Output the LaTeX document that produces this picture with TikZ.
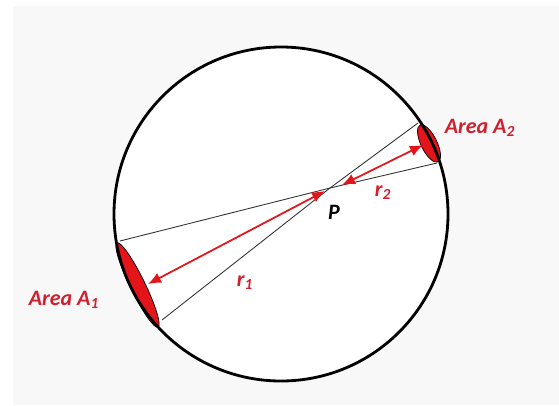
\documentclass[tikz,border=0pt]{standalone}
\usepackage{fontspec}
\setmainfont{Carlito}
\usetikzlibrary{arrows.meta,positioning,calc}
\definecolor{areared}{HTML}{E4141B}
\definecolor{labelred}{HTML}{D0202E}
\definecolor{paper}{HTML}{F8F8F8}
\tikzset{
  arealabel/.style={font=\fontsize{12.5}{14}\selectfont\bfseries\itshape,text=labelred,inner sep=1pt},
  radiuslabel/.style={font=\fontsize{12.5}{14}\selectfont\bfseries\itshape,text=labelred,inner sep=1pt},
  chord/.style={black!80,line width=0.5pt},
  radius/.style={areared,line width=1pt,{Latex[length=2.6mm,width=2.2mm]}-{Latex[length=2.6mm,width=2.2mm]}}
}

\begin{document}
\begin{tikzpicture}
  \useasboundingbox (0,0) rectangle (11.18,8.1);
  \fill[paper] (0.26,0) rectangle (11.18,7.98);

  \coordinate (O) at (5.62,3.82);
  \fill[white] (O) circle (3.34);

  \coordinate (P) at (6.60,4.34);
  \coordinate (a1) at (2.40,3.28);
  \coordinate (b1) at (8.74,4.84);
  \coordinate (a2) at (3.24,1.70);
  \coordinate (b2) at (8.36,5.64);
  \draw[chord] (a1)--(P)--(b1);
  \draw[chord] (a2)--(P)--(b2);

  % the two small areas on the sphere
  \fill[areared,draw=black,line width=0.4pt,rotate around={-64:(2.75,2.40)}]
    (2.75,2.40) ellipse (0.94 and 0.15);
  \fill[areared,draw=black,line width=0.4pt,rotate around={-64:(8.58,5.23)}]
    (8.58,5.23) ellipse (0.41 and 0.16);

  \draw[black,line width=1.6pt] (O) circle (3.34);

  \coordinate (r1s) at (2.96,2.42);
  \coordinate (r1e) at (6.50,4.28);
  \coordinate (r2s) at (6.84,4.40);
  \coordinate (r2e) at (8.46,5.20);
  \draw[radius] (r1s)--(r1e);
  \draw[radius] (r2s)--(r2e);

  \node[font=\fontsize{12.5}{14}\selectfont\bfseries\itshape,inner sep=1pt] (Plabel) at (6.68,3.86) {P};
  \node[radiuslabel] (r1label) at (4.90,2.44) {r\textsubscript{1}};
  \node[radiuslabel] (r2label) at (7.66,4.24) {r\textsubscript{2}};
  \node[arealabel] (A1label) at (1.28,2.10) {Area A\textsubscript{1}};
  \node[arealabel] (A2label) at (9.60,5.54) {Area A\textsubscript{2}};
\end{tikzpicture}
\end{document}
